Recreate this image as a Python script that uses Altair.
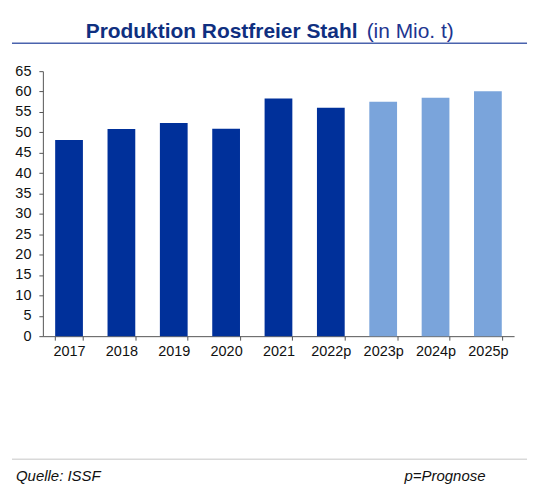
import altair as alt
import pandas as pd

# data
years = ["2017", "2018", "2019", "2020", "2021", "2022p", "2023p", "2024p", "2025p"]
production = [48.1, 50.8, 52.3, 50.9, 58.3, 56.0, 57.5, 58.5, 60.1]
kind = ["ist", "ist", "ist", "ist", "ist", "ist", "prognose", "prognose", "prognose"]

df = pd.DataFrame({"year": years, "value": production, "kind": kind})

W, H = 473, 266
one = alt.Data(values=[{}])
axis_grey = "#555555"

bars = alt.Chart(df).mark_bar().encode(
    x=alt.X("year:N", sort=years, title=None,
            scale=alt.Scale(paddingInner=0.47, paddingOuter=0.235),
            axis=alt.Axis(labelAngle=0, tickBand="extent", tickSize=4,
                          labelPadding=4, labelFontSize=14.5, labelFont="Liberation Sans",
                          labelColor="#111111", domainColor=axis_grey, tickColor=axis_grey)),
    y=alt.Y("value:Q", title=None,
            scale=alt.Scale(domain=[0, 65], nice=False),
            axis=alt.Axis(values=list(range(0, 70, 5)), grid=False, tickSize=4,
                          labelPadding=8, labelFontSize=14.5, labelFont="Liberation Sans",
                          labelColor="#111111", domainColor=axis_grey, tickColor=axis_grey)),
    color=alt.Color("kind:N", legend=None,
                    scale=alt.Scale(domain=["ist", "prognose"], range=["#00309a", "#7aa4db"])),
)

# header
title_bold = alt.Chart(one).mark_text(
    text="Produktion Rostfreier Stahl", font="Liberation Sans", fontWeight="bold",
    fontSize=21, color="#0f2f80", align="left", baseline="alphabetic",
).encode(x=alt.value(43), y=alt.value(-33))

title_unit = alt.Chart(one).mark_text(
    text="(in Mio. t)", font="Liberation Sans", fontSize=21,
    color="#1e3590", align="left", baseline="alphabetic",
).encode(x=alt.value(325), y=alt.value(-33))

title_line = alt.Chart(one).mark_rule(color="#4a63ad", strokeWidth=1.5).encode(
    x=alt.value(-31), x2=alt.value(486), y=alt.value(-28))

# footer
foot_line = alt.Chart(one).mark_rule(color="#d9d9d9", strokeWidth=1.5).encode(
    x=alt.value(-31), x2=alt.value(486), y=alt.value(389.5))

source = alt.Chart(one).mark_text(
    text="Quelle: ISSF", font="Liberation Sans", fontStyle="italic", fontSize=15,
    color="#111111", align="left", baseline="alphabetic",
).encode(x=alt.value(-27), y=alt.value(411))

note = alt.Chart(one).mark_text(
    text="p=Prognose", font="Liberation Sans", fontStyle="italic", fontSize=15,
    color="#111111", align="left", baseline="alphabetic",
).encode(x=alt.value(363), y=alt.value(411))

chart = alt.layer(bars, title_bold, title_unit, title_line, foot_line, source, note).properties(
    width=W, height=H,
    background="white",
    autosize=alt.AutoSizeParams(type="none"),
    padding={"left": 35, "top": 62.5, "right": 20, "bottom": 150},
).configure_view(strokeWidth=0)

chart.save("out.html", embed_options={"renderer": "svg", "actions": False})
